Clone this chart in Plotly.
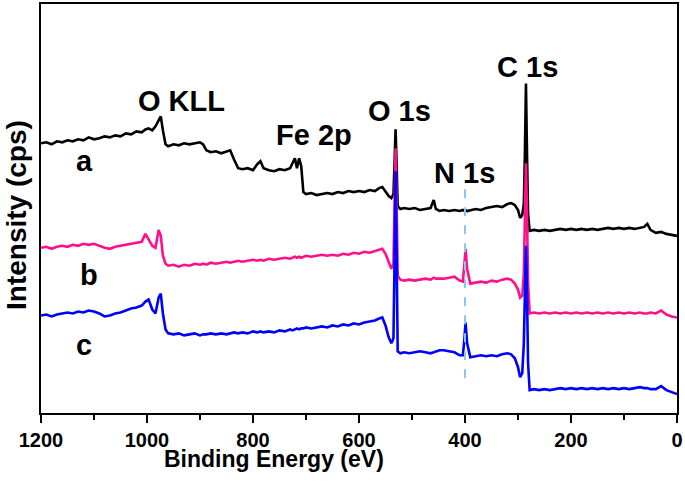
import plotly.graph_objects as go

# Binding energy grid (eV), shared by the three spectra
binding_energy = [
    1200, 1190, 1180, 1170, 1160, 1150, 1140, 1130, 1120, 1110,
    1100, 1090, 1080, 1070, 1060, 1050, 1040, 1030, 1020, 1010,
    1003, 997, 990, 984, 978, 974, 970, 965, 960, 950,
    940, 930, 920, 910, 900, 894, 888, 880, 870, 860,
    850, 843, 836, 828, 820, 810, 800, 792, 786, 780,
    770, 760, 750, 740, 730, 725, 721, 717, 713, 709,
    705, 700, 690, 680, 670, 660, 650, 640, 630, 620,
    610, 600, 590, 580, 570, 562, 556, 550, 544, 539,
    535, 533, 531, 529, 527, 522, 515, 505, 495, 485,
    475, 465, 459, 455, 448, 440, 430, 420, 410, 404,
    401, 399, 396, 390, 380, 370, 360, 350, 340, 330,
    320, 313, 306, 300, 296, 292, 289, 287, 285, 283,
    281, 278, 270, 260, 250, 240, 230, 220, 210, 200,
    190, 180, 170, 160, 150, 140, 130, 120, 110, 100,
    90, 80, 70, 62, 56, 50, 40, 30, 20, 10,
    0,
]

# Intensity (a.u., offset spectra)
intensity_a = [
    271, 272, 270, 273, 272, 274, 273, 275, 274, 277,
    275, 276, 278, 277, 279, 278, 281, 280, 283, 282,
    285, 286, 284, 288, 294, 298, 284, 270, 268, 270,
    269, 271, 270, 271, 272, 270, 264, 262, 263, 261,
    263, 264, 255, 246, 245, 246, 244, 250, 253, 246,
    244, 243, 245, 244, 246, 252, 256, 246, 256, 248,
    222, 220, 221, 219, 220, 221, 220, 222, 221, 223,
    222, 223, 222, 224, 223, 226, 227, 222, 218, 216,
    220, 250, 285, 250, 208, 205, 206, 205, 206, 204,
    205, 206, 214, 205, 203, 204, 203, 204, 203, 204,
    203, 204, 203, 204, 205, 204, 206, 207, 208, 207,
    210, 211, 209, 204, 196, 199, 210, 260, 331, 260,
    200, 183, 184, 183, 184, 183, 184, 185, 184, 185,
    184, 185, 184, 185, 184, 185, 186, 185, 186, 185,
    186, 185, 186, 187, 190, 184, 181, 182, 180, 179,
    178,
]

intensity_b = [
    166, 167, 165, 167, 168, 167, 169, 168, 170, 169,
    170, 168, 166, 165, 167, 168, 169, 170, 171, 172,
    180, 175, 168, 166, 184, 178, 158, 150, 148, 149,
    147, 149, 148, 150, 149, 150, 149, 151, 150, 151,
    152, 151, 152, 153, 152, 153, 154, 153, 154, 153,
    155, 154, 155, 156, 155, 156, 157, 156, 157, 156,
    157, 158, 157, 158, 159, 158, 159, 158, 160, 159,
    161, 160, 162, 161, 163, 164, 165, 160, 152, 145,
    150, 200, 266, 210, 138, 134, 133, 134, 133, 134,
    135, 134, 136, 135, 135, 135, 136, 137, 133, 132,
    150, 165, 145, 130, 131, 132, 131, 133, 132, 134,
    135, 134, 130, 124, 116, 118, 140, 200, 251, 200,
    130, 100, 101, 100, 101, 100, 101, 100, 101, 100,
    101, 100, 101, 100, 101, 100, 101, 100, 101, 100,
    101, 100, 101, 100, 100, 101, 100, 103, 99, 97,
    96,
]

intensity_c = [
    98, 99, 97, 99, 100, 101, 100, 102, 101, 103,
    102, 100, 97, 98, 100, 101, 103, 105, 106, 108,
    112, 114, 104, 100, 116, 120, 100, 84, 80, 79,
    80, 78, 79, 80, 78, 79, 79, 80, 79, 80,
    79, 80, 81, 80, 81, 80, 82, 81, 82, 81,
    82, 81, 83, 82, 84, 83, 84, 85, 84, 85,
    85, 86, 85, 86, 87, 86, 88, 87, 89, 88,
    90, 89, 91, 92, 93, 95, 96, 88, 76, 70,
    75, 150, 243, 160, 62, 60, 61, 60, 61, 62,
    61, 60, 61, 62, 63, 63, 62, 61, 58, 58,
    75, 91, 70, 56, 57, 58, 57, 58, 57, 59,
    60, 59, 55, 46, 36, 40, 70, 120, 168, 120,
    50, 23, 24, 23, 24, 23, 24, 25, 24, 25,
    24, 25, 24, 25, 24, 25, 24, 25, 24, 25,
    24, 25, 26, 25, 25, 24, 24, 27, 23, 21,
    19,
]

series_names = ["a", "b", "c"]
series_colors = ["#000000", "#ff1088", "#0000ff"]

# Peak labels
peak_labels = ["O KLL", "Fe 2p", "O 1s", "N 1s", "C 1s"]
peak_label_x = [935, 685, 523, 401, 282]
peak_label_y = [314, 279, 303, 241, 348]

# Sample labels
sample_label_x = [1117, 1110, 1119]
sample_label_y = [253, 139, 68]

# N 1s reference line
n1s_energy = 400
n1s_line_y = [35, 225]

x_ticks = [1200, 1000, 800, 600, 400, 200, 0]
x_range = [1200, 0]
y_range = [0, 411]

FONT = "Liberation Sans, Arial, sans-serif"

fig = go.Figure()
for name, ys, col in zip(series_names, [intensity_a, intensity_b, intensity_c], series_colors):
    fig.add_trace(go.Scatter(x=binding_energy, y=ys, mode="lines", name=name,
                             line=dict(color=col, width=2.6), showlegend=False))

fig.add_shape(type="line", xref="x", yref="y", x0=n1s_energy, x1=n1s_energy,
              y0=n1s_line_y[0], y1=n1s_line_y[1],
              line=dict(color="#8cc6f2", width=2, dash="dash"))

for txt, x, y in zip(peak_labels, peak_label_x, peak_label_y):
    fig.add_annotation(x=x, y=y, xref="x", yref="y", text=txt, showarrow=False,
                       xanchor="center", yanchor="middle",
                       font=dict(family=FONT, size=29, color="black", weight="bold"))

for txt, x, y in zip(series_names, sample_label_x, sample_label_y):
    fig.add_annotation(x=x, y=y, xref="x", yref="y", text=txt, showarrow=False,
                       xanchor="center", yanchor="middle",
                       font=dict(family=FONT, size=29, color="black", weight="bold"))

# Axis titles
fig.add_annotation(x=0.367, y=-0.113, xref="paper", yref="paper",
                   text="Binding Energy (eV)", showarrow=False,
                   xanchor="center", yanchor="middle",
                   font=dict(family=FONT, size=23, color="black", weight="bold"))
fig.add_annotation(x=-0.0385, y=0.483, xref="paper", yref="paper",
                   text="Intensity (cps)", showarrow=False, textangle=-90,
                   xanchor="center", yanchor="middle",
                   font=dict(family=FONT, size=28, color="black", weight="bold"))

fig.update_layout(
    width=685, height=488,
    margin=dict(l=41, r=6, t=2, b=75),
    plot_bgcolor="white", paper_bgcolor="white",
    font=dict(family=FONT, color="black"),
)
fig.update_xaxes(range=x_range, tickvals=x_ticks, ticks="outside", ticklen=8,
                 tickwidth=2, tickcolor="black", showline=True, linewidth=2,
                 linecolor="black", mirror=True, showgrid=False, zeroline=False,
                 tickfont=dict(family=FONT, size=20, color="black", weight="bold"),
                 minor=dict(dtick=100, ticks="outside", ticklen=5, tickwidth=2,
                            tickcolor="black", showgrid=False))
fig.update_yaxes(range=y_range, showticklabels=False, ticks="", showline=True,
                 linewidth=2, linecolor="black", mirror=True, showgrid=False,
                 zeroline=False)

fig.write_html("out.html", config={"displayModeBar": False},
               post_script="document.body.style.margin='0';document.body.style.padding='0';")
